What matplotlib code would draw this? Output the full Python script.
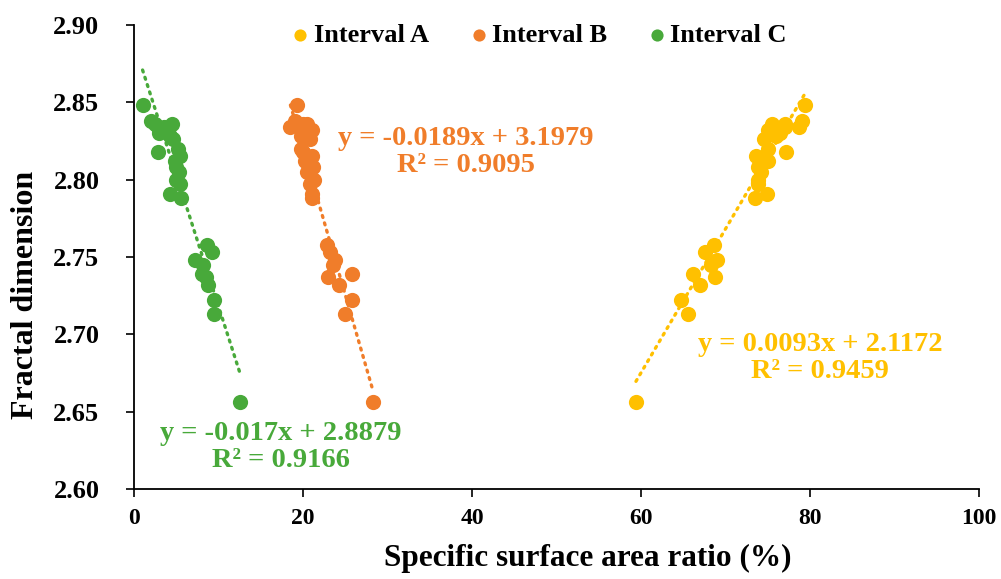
import matplotlib
matplotlib.use("Agg")
import matplotlib.pyplot as plt
import numpy as np

# Fractal dimension of each sample
fractal_d = [2.848, 2.838, 2.836, 2.834, 2.832, 2.836, 2.830, 2.828, 2.834, 2.826,
             2.818, 2.820, 2.815, 2.812, 2.808, 2.805, 2.800, 2.797, 2.791, 2.788,
             2.758, 2.753, 2.748, 2.745, 2.739, 2.737, 2.732, 2.722, 2.713, 2.656]
# Specific surface area ratio (%) of each interval
interval_a = [79.4, 79.0, 77.0, 77.0, 75.0, 75.5, 76.5, 76.0, 78.7, 74.6,
              77.2, 75.0, 73.6, 75.0, 73.8, 74.2, 73.8, 73.8, 74.9, 73.5,
              68.6, 67.6, 69.0, 68.3, 66.2, 68.7, 67.0, 64.7, 65.5, 59.4]
interval_b = [19.3, 19.0, 20.5, 19.5, 21.0, 20.0, 20.5, 19.8, 18.5, 20.8,
              20.0, 19.8, 21.0, 20.2, 21.2, 20.5, 21.3, 20.8, 21.0, 21.0,
              22.8, 23.2, 23.8, 23.5, 25.8, 23.0, 24.2, 25.8, 25.0, 28.3]
interval_c = [1.0, 2.0, 2.5, 3.5, 4.0, 4.5, 3.0, 4.2, 2.8, 4.6,
              2.8, 5.2, 5.4, 4.8, 5.0, 5.3, 4.9, 5.4, 4.3, 5.5,
              8.6, 9.2, 7.2, 8.2, 8.0, 8.5, 8.8, 9.5, 9.5, 12.5]

series_names = ["Interval A", "Interval B", "Interval C"]
slopes = [0.0093, -0.0189, -0.017]
intercepts = [2.1172, 3.1979, 2.8879]
eq_texts = ["y = 0.0093x + 2.1172\nR² = 0.9459",
            "y = -0.0189x + 3.1979\nR² = 0.9095",
            "y = -0.017x + 2.8879\nR² = 0.9166"]

x_ticks = [0, 20, 40, 60, 80, 100]
y_ticks = [2.60, 2.65, 2.70, 2.75, 2.80, 2.85, 2.90]

colors = ["#FFC000", "#F07D2A", "#48A93A"]
eq_pos = [(81.2, 2.6846), (39.3, 2.818), (17.4, 2.627)]

plt.rcParams['font.family'] = ['Liberation Serif', 'DejaVu Serif']
plt.rcParams['font.weight'] = 'bold'

fig = plt.figure(figsize=(10.01, 5.79), dpi=100)
ax = fig.add_axes([0.134, 0.1554, 0.844, 0.8014])

data_x = [interval_a, interval_b, interval_c]
for xs, name, col, m, b in zip(data_x, series_names, colors, slopes, intercepts):
    xs = np.array(xs)
    ax.scatter(xs, fractal_d, s=120, color=col, label=name, zorder=3, linewidths=0)
    xl = np.array([xs.min(), xs.max()])
    ax.plot(xl, m * xl + b, color=col, linestyle=(0, (0.6, 1.7)), linewidth=2.4,
            dash_capstyle='round', zorder=2)

for txt, col, (tx, ty) in zip(eq_texts, colors, eq_pos):
    ax.text(tx, ty, txt, color=col, fontsize=20.5, fontweight='bold',
            ha='center', va='center', linespacing=1.1)

ax.set_xlim(0, 100)
ax.set_ylim(2.60, 2.90)
ax.set_xticks(x_ticks)
ax.set_yticks(y_ticks)
ax.set_xticklabels([str(v) for v in x_ticks])
ax.set_yticklabels([f"{v:.2f}" for v in y_ticks])
ax.tick_params(axis='both', direction='out', length=6, width=1.2)
ax.tick_params(axis='x', labelsize=17, pad=8)
ax.tick_params(axis='y', labelsize=19, pad=19)
for lab in ax.get_xticklabels() + ax.get_yticklabels():
    lab.set_fontweight('bold')
ax.spines['top'].set_visible(False)
ax.spines['right'].set_visible(False)
ax.spines['left'].set_linewidth(1.3)
ax.spines['bottom'].set_linewidth(1.3)

ax.set_xlabel("Specific surface area ratio (%)", fontsize=22.5, fontweight='bold')
ax.set_ylabel("Fractal dimension", fontsize=23, fontweight='bold')
ax.xaxis.label.set_va('center')
ax.yaxis.label.set_va('center')
ax.xaxis.set_label_coords(0.537, -0.149)
ax.yaxis.set_label_coords(-0.128, 0.418)

leg = ax.legend(loc='center', bbox_to_anchor=(0.48, 0.978), ncol=3, frameon=False,
                fontsize=19, handletextpad=0.2, handlelength=0.6, columnspacing=1.6,
                markerscale=0.8, borderpad=0.2)
for t in leg.get_texts():
    t.set_fontweight('bold')

fig.savefig("out.png", dpi=100)
